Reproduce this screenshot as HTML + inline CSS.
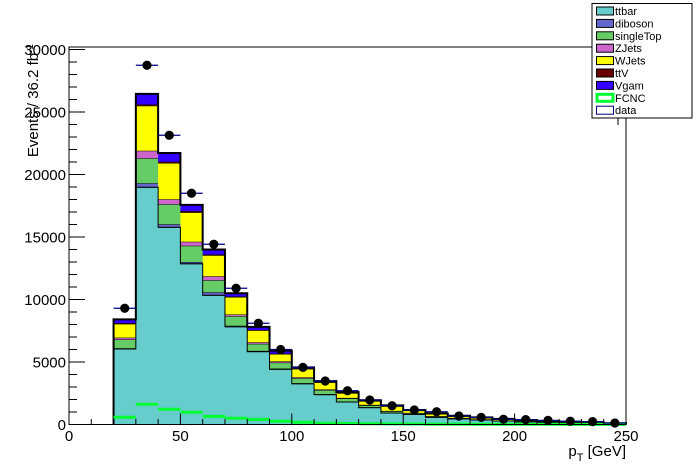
<!DOCTYPE html>
<html><head><meta charset="utf-8"><style>
html,body{margin:0;padding:0;background:#fff;}
svg{display:block;font-family:"Liberation Sans",Arial,sans-serif;}
</style></head><body>
<svg id="chart" width="696" height="472" viewBox="0 0 696 472">
<rect x="0" y="0" width="696" height="472" fill="#fff"/>
<g id="bars"></g>
<g id="fcnc"></g>
<g id="data"></g>
<g id="axes"></g>
<g id="legend"></g>
</svg>
<script>
const binEdges = [20,30,40,50,60,70,80,90,100,110,120,130,140,150,160,170,180,190,200,210,220,230,240,250];
const ttbar     = [6040,18980,15780,12860,10340,7820,5830,4420,3260,2390,1800,1350,920,810,580,460,360,280,220,180,140,110,70];
const diboson   = [60,320,240,140,240,80,60,50,40,30,20,15,10,8,6,5,4,3,3,2,2,1,1];
const singleTop = [700,2000,1600,1300,960,770,560,480,400,330,260,170,130,90,70,50,40,30,25,20,15,12,8];
const zjets     = [150,600,400,320,320,130,130,100,80,60,50,40,30,20,15,12,10,8,6,5,4,3,2];
const wjets     = [1100,3600,2900,2350,1680,1400,960,590,670,560,380,300,370,180,170,130,120,95,70,55,45,35,15];
const ttv       = [60,100,100,100,60,40,30,30,20,20,15,10,10,8,6,5,4,3,3,2,2,1,1];
const vgam      = [300,850,700,500,400,260,240,240,100,80,70,55,60,44,43,38,32,31,21,18,14,11,3];
const fcnc      = [580,1620,1220,980,650,500,410,260,180,100,80,60,50,40,35,30,25,22,20,18,15,12,10];
const dataVals  = [9300,28740,23140,18500,14420,10900,8100,6000,4570,3480,2700,1960,1500,1160,1020,680,570,420,390,330,260,230,120];
const xTicks = [0,50,100,150,200,250];
const yTicks = [0,5000,10000,15000,20000,25000,30000];

const NS="http://www.w3.org/2000/svg";
const X0=69,X1=626,Y0=424.5,YT=47;
function xs(v){return X0+(v/250)*(X1-X0);}
function ys(v){return Y0-v*(Y0-49.5)/30000;}
function mk(tag,attrs,parent){const e=document.createElementNS(NS,tag);for(const k in attrs)e.setAttribute(k,attrs[k]);parent.appendChild(e);return e;}

const series=[
 {name:"ttbar",vals:ttbar,color:"#66cccc"},
 {name:"diboson",vals:diboson,color:"#6666cc"},
 {name:"singleTop",vals:singleTop,color:"#66cc66"},
 {name:"ZJets",vals:zjets,color:"#cc66cc"},
 {name:"WJets",vals:wjets,color:"#ffff00"},
 {name:"ttV",vals:ttv,color:"#660000"},
 {name:"Vgam",vals:vgam,color:"#3300ff"}
];
const gb=document.getElementById('bars');
const totals=[];
for(let i=0;i<binEdges.length-1;i++){
  let cum=0;
  const xa=xs(binEdges[i]),xb=xs(binEdges[i+1]);
  series.forEach(s=>{
    const v=s.vals[i];
    const r=mk('rect',{x:xa,y:ys(cum+v),width:xb-xa+0.3,height:ys(cum)-ys(cum+v),fill:s.color},gb);
    
    
    cum+=v;
    mk('line',{x1:xa,x2:xb,y1:ys(cum),y2:ys(cum),stroke:"#000","stroke-width":1},gb);
  });
  totals.push(cum);
}
// step outline of each layer's cumulative and total
let d="M"+xs(binEdges[0])+","+Y0;
for(let i=0;i<totals.length;i++){
  d+=" L"+xs(binEdges[i])+","+ys(totals[i])+" L"+xs(binEdges[i+1])+","+ys(totals[i]);
}
d+=" L"+xs(binEdges[binEdges.length-1])+","+Y0;
const op=mk('path',{d:d,fill:"none",stroke:"#000","stroke-width":2},gb);


// ttbar step outline
let d2="M"+xs(binEdges[0])+","+Y0;
for(let i=0;i<ttbar.length;i++){
  d2+=" L"+xs(binEdges[i])+","+ys(ttbar[i])+" L"+xs(binEdges[i+1])+","+ys(ttbar[i]);
}
mk('path',{d:d2,fill:"none",stroke:"#000","stroke-width":1},gb);

const gf=document.getElementById('fcnc');
for(let i=0;i<fcnc.length;i++){
  const l=mk('line',{x1:xs(binEdges[i]),x2:xs(binEdges[i+1]),y1:ys(fcnc[i]),y2:ys(fcnc[i]),stroke:"#00ff33","stroke-width":3},gf);
  
  
}
const gd=document.getElementById('data');
for(let i=0;i<dataVals.length;i++){
  const xa=xs(binEdges[i]),xb=xs(binEdges[i+1]),xc=(xa+xb)/2,y=ys(dataVals[i]);
  const e=Math.sqrt(dataVals[i]);
  mk('line',{x1:xa,x2:xb,y1:y,y2:y,stroke:"#000080","stroke-width":1.2},gd);
  mk('line',{x1:xc,x2:xc,y1:ys(dataVals[i]+e),y2:ys(dataVals[i]-e),stroke:"#000080","stroke-width":1.2},gd);
  const c=mk('circle',{cx:xc,cy:y,r:4.6,fill:"#000"},gd);
  
  
}
const ga=document.getElementById('axes');
mk('rect',{x:X0,y:YT,width:X1-X0,height:Y0-YT,fill:"none",stroke:"#000","stroke-width":1},ga);
for(let v=0;v<=250;v+=10){
  const big=v%50===0;
  mk('line',{x1:xs(v),x2:xs(v),y1:Y0,y2:Y0-(big?11:5.5),stroke:"#000","stroke-width":1},ga);
}
xTicks.forEach(v=>{
  const t=mk('text',{x:xs(v),y:441,"text-anchor":"middle","font-size":15,fill:"#000"},ga);
  t.textContent=v;
  
  
});
for(let v=0;v<=30000;v+=1000){
  const big=v%5000===0;
  mk('line',{x1:X0,x2:X0+(big?16:8),y1:ys(v),y2:ys(v),stroke:"#000","stroke-width":1},ga);
}
yTicks.forEach(v=>{
  const t=mk('text',{x:66,y:ys(v)+5.5,"text-anchor":"end","font-size":15,fill:"#000"},ga);
  t.textContent=v;
  
  
});
const xt=mk('text',{x:626,y:456,"text-anchor":"end","font-size":15,fill:"#000"},ga);
xt.innerHTML='p<tspan font-size="11" dy="5">T</tspan><tspan dy="-5"> [GeV]</tspan>';


const yt=mk('text',{x:0,y:0,"text-anchor":"end","font-size":15,fill:"#000",transform:"translate(38,44) rotate(-90)"},ga);
yt.innerHTML='Events / 36.2 fb<tspan font-size="10" dy="-5">-1</tspan>';



const gl=document.getElementById('legend');
mk('line',{x1:560,x2:592,y1:47,y2:47,stroke:"#000","stroke-width":1},gl);
mk('line',{x1:618,x2:618,y1:118,y2:125,stroke:"#000","stroke-width":1},gl);
mk('rect',{x:592,y:3.5,width:100,height:114.5,fill:"#fff",stroke:"#000","stroke-width":1},gl);
const leg=[["ttbar","#66cccc","fill"],["diboson","#6666cc","fill"],["singleTop","#66cc66","fill"],["ZJets","#cc66cc","fill"],["WJets","#ffff00","fill"],["ttV","#660000","fill"],["Vgam","#3300ff","fill"],["FCNC","#00ff33","line"],["data","#000080","box"]];
leg.forEach((L,i)=>{
  const y=6+i*12.4;
  let sw;
  if(L[2]==="fill") sw=mk('rect',{x:596.5,y:y+1,width:17,height:8,fill:L[1],stroke:"#000","stroke-width":1},gl);
  else if(L[2]==="line") sw=mk('rect',{x:597,y:y+1.5,width:16,height:7,fill:"#fff",stroke:L[1],"stroke-width":3},gl);
  else sw=mk('rect',{x:596.5,y:y+1,width:17,height:8,fill:"#fff",stroke:L[1],"stroke-width":1},gl);
  
  
  const t=mk('text',{x:615,y:y+9,"font-size":11,fill:"#000"},gl);
  t.textContent=L[0];
  
  
});
</script>
</body></html>
